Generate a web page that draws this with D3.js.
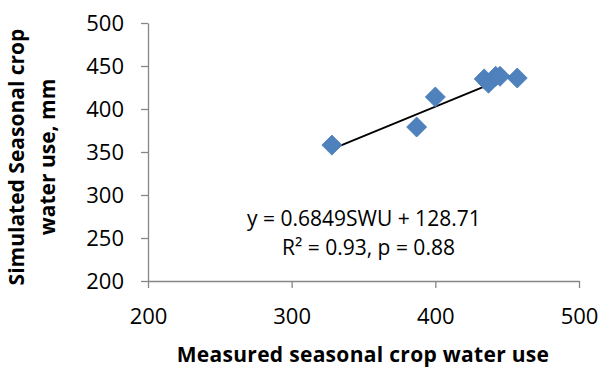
<!DOCTYPE html>
<html>
<head>
<meta charset="utf-8">
<script src="https://cdn.jsdelivr.net/npm/d3@7"></script>
<style>
  body { margin: 0; background: #fff; }
  svg { display: block; font-family: "Open Sans", sans-serif; }
</style>
</head>
<body>
<div id="chart"></div>
<script>
(() => {
  // measured vs simulated seasonal crop water use (mm)
  const measured = [328, 387, 400, 434, 437, 442, 445, 457]
  const simulated = [358, 379, 414, 435, 430, 438, 438, 436]
  const xTicks = [200, 300, 400, 500]
  const yTicks = [200, 250, 300, 350, 400, 450, 500]
  const slope = 0.6849
  const intercept = 128.71
  const eqLines = ['y = 0.6849SWU + 128.71', 'R² = 0.93, p = 0.88']

  const width = 600
  const height = 367
  const axisColor = '#868686'

  const svg = d3.select('#chart')
    .append('svg')
    .attr('width', width)
    .attr('height', height)

  const x = d3.scaleLinear().domain([200, 500]).range([148, 579])
  const y = d3.scaleLinear().domain([200, 500]).range([281, 23])

  // axes
  const gx = svg.append('g')
    .attr('transform', `translate(0,${y(200)})`)
    .call(d3.axisBottom(x).tickValues(xTicks).tickSize(7).tickPadding(20).tickSizeOuter(0))
  const gy = svg.append('g')
    .attr('transform', `translate(${x(200)},0)`)
    .call(d3.axisLeft(y).tickValues(yTicks).tickSize(7).tickPadding(17).tickSizeOuter(0))

  ;[gx, gy].forEach(g => {
    g.select('.domain').attr('stroke', axisColor).attr('stroke-width', 1.3)
    g.selectAll('.tick line').attr('stroke', axisColor).attr('stroke-width', 1.3)
    g.selectAll('.tick text')
      .attr('fill', '#000')
      .style('font-size', '22px')
      .style('font-family', '"Open Sans", sans-serif')
  })

  // trend line from the fitted equation
  const xMin = d3.min(measured)
  const xMax = d3.max(measured)
  svg.append('line')
    .attr('x1', x(xMin))
    .attr('y1', y(slope * xMin + intercept))
    .attr('x2', x(xMax))
    .attr('y2', y(slope * xMax + intercept))
    .attr('stroke', '#000')
    .attr('stroke-width', 1.8)

  // diamond markers
  const diamond = d3.symbol().type(d3.symbolSquare).size(200)
  svg.append('g')
    .selectAll('path')
    .data(measured.map((m, i) => [m, simulated[i]]))
    .enter()
    .append('path')
    .attr('d', diamond)
    .attr('transform', d => `translate(${x(d[0])},${y(d[1])}) rotate(45)`)
    .attr('fill', '#4F81BD')
    .attr('stroke', '#4A7EBB')
    .attr('stroke-width', 0.8)

  // equation
  svg.append('text')
    .attr('x', 247)
    .attr('y', 226)
    .style('font-size', '21px')
    .text(eqLines[0])
  svg.append('text')
    .attr('x', 282)
    .attr('y', 255)
    .style('font-size', '21px')
    .text(eqLines[1])

  // axis titles
  svg.append('text')
    .attr('x', 363)
    .attr('y', 362)
    .attr('text-anchor', 'middle')
    .style('font-size', '21px')
    .style('font-weight', 'bold')
    .style('letter-spacing', '0.3px')
    .text('Measured seasonal crop water use')

  const yTitle = svg.append('text')
    .attr('transform', 'translate(0,157) rotate(-90)')
    .attr('text-anchor', 'middle')
    .style('font-size', '21px')
    .style('font-weight', 'bold')
  yTitle.append('tspan')
    .attr('x', 0)
    .attr('y', 24)
    .text('Simulated Seasonal crop')
  yTitle.append('tspan')
    .attr('x', 0)
    .attr('y', 55)
    .text('water use, mm')
})()
</script>
</body>
</html>
